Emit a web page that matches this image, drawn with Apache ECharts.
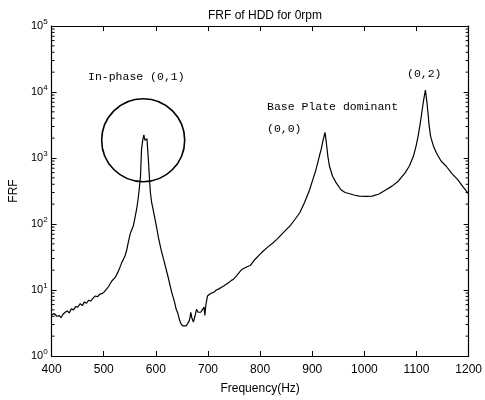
<!DOCTYPE html>
<html><head><meta charset="utf-8">
<script src="https://cdn.jsdelivr.net/npm/echarts@6/dist/echarts.min.js"></script>
<style>html,body{margin:0;padding:0;background:#fff}#c{width:485px;height:400px}</style>
</head><body><div id="c"></div>
<script>
var freq = [400,405,410,415,418,422,426,430,434,438,442,446,450,455,459,463,467,471,475,480,484,488,492,496,500,505,509,515.6,522,527,531,534.6,538,541,544,547,551,556.7,560,563,565.5,567.4,569,570.6,572.5,575,577,579,581,583,584.5,586.4,588,589.6,592,594.7,601,605,610,616,623,630,636,639,642,645,648,651.5,655,658,661,664,666,667,669,672,675,678,681,684,686,689,692.5,694,696,699,703,707,711,716,721,726,730,735,740,745,749,755,760,765,768,775,781,790,800,806,815,825,832,840,850,857,866,876,885,895,901,906,910.5,914,917,921,924.5,927,930,933,939,946,955,963,970,980,990,1003,1015,1028,1040,1053,1065,1078,1086,1094,1099,1103,1107,1110,1113,1117,1120,1122,1124,1127,1132,1138,1147,1157,1168,1179,1190,1200];
var frf = [4.2,4.4,4.0,4.1,3.8,4.3,4.6,4.8,4.5,5.2,5.0,5.6,5.5,6.2,5.8,6.6,6.3,7.0,6.8,7.6,8.1,7.9,8.6,8.8,9.2,10.2,11.2,13.7,15.5,18.5,22,26,29.5,33,40,52,72,93,125,166,225,297,400,530,1340,1900,2250,1850,1900,1950,1300,750,450,297,210,166,93,62,41,27,16.3,9.5,6.5,5.1,4.5,3.6,3.1,2.87,2.9,2.87,3.1,3.4,4.0,4.6,3.8,3.26,4.0,5.1,4.6,4.3,4.6,5.0,5.5,4.1,6.0,8.1,8.6,9.0,9.2,10.0,10.4,11.0,11.5,12.2,13.0,14.0,14.6,16.5,18.5,20.5,21.9,22.5,23.5,29,35,39,45,52,58.5,68,82,93,115,148,210,330,470,620,845,1100,1340,1900,2450,1700,1050,750,530,420,330,300,290,275,265,262,265,285,325,375,445,594,750,1060,1500,2130,3300,4800,7000,10700,7000,4800,3200,2130,1550,1200,900,750,580,470,360,285];
var titleText = 'FRF of HDD for 0rpm';
var xName = 'Frequency(Hz)';
var yName = 'FRF';
var notes = [
  {text:'In-phase (0,1)', x:88, y:78},
  {text:'Base Plate dominant', x:267, y:108},
  {text:'(0,0)', x:267, y:130},
  {text:'(0,2)', x:407, y:75}
];
var circleCenter = [575.7, 1860];

var data = freq.map(function(f,i){return [f, frf[i]];});
var chart = echarts.init(document.getElementById('c'));
var fontS = 'Liberation Sans';
var ylab = {
  formatter:function(v){var e=Math.round(Math.log10(v));return '{b|10}{s|'+e+'}';},
  rich:{b:{fontSize:11,fontFamily:fontS,color:'#000'},s:{fontSize:8,fontFamily:fontS,color:'#000',padding:[0,0,8,0]}},
  margin:4
};
var lineSt = {lineStyle:{color:'#000',width:1.2}};
chart.setOption({
  animation:false,
  backgroundColor:'#fff',
  title:{text:titleText,left:260,top:5,textAlign:'center',textStyle:{fontSize:12,fontWeight:'normal',fontFamily:fontS,color:'#000'}},
  grid:{left:49,right:14,top:26,bottom:43},
  xAxis:[
    {type:'value',min:400,max:1200,interval:100,position:'bottom',
     axisLine:lineSt,axisTick:{inside:true,length:5,lineStyle:{color:'#000'}},
     axisLabel:{color:'#000',fontSize:12,fontFamily:fontS,margin:8,formatter:function(v){return String(v);}},
     splitLine:{show:false},
     name:xName,nameLocation:'middle',nameGap:27,nameTextStyle:{color:'#000',fontSize:12,fontFamily:fontS}},
    {type:'value',min:400,max:1200,interval:100,position:'top',
     axisLine:lineSt,axisTick:{inside:true,length:5,lineStyle:{color:'#000'}},
     axisLabel:{show:false},splitLine:{show:false}}
  ],
  yAxis:[
    {type:'log',logBase:10,min:1,max:100000,position:'left',
     axisLine:{show:true,lineStyle:{color:'#000',width:1.2}},
     axisTick:{inside:true,length:5,lineStyle:{color:'#000'}},
     axisLabel:Object.assign({color:'#000'},ylab),
     splitLine:{show:false},
     name:yName,nameLocation:'middle',nameGap:27,nameTextStyle:{color:'#000',fontSize:12,fontFamily:fontS}},
    {type:'log',logBase:10,min:1,max:100000,position:'right',
     axisLine:{show:true,lineStyle:{color:'#000',width:1.2}},
     axisTick:{inside:true,length:5,lineStyle:{color:'#000'}},
     axisLabel:{show:false},splitLine:{show:false}}
  ],
  series:[{type:'line',data:data,showSymbol:false,xAxisIndex:0,yAxisIndex:0,
    lineStyle:{color:'#000',width:1.2},itemStyle:{color:'#000'}}]
});
var cp = chart.convertToPixel({xAxisIndex:0,yAxisIndex:0}, circleCenter);
var g = notes.map(function(n){
  return {type:'text',left:n.x,top:n.y-7,style:{text:n.text,fontSize:11.5,fontFamily:'Liberation Mono',fill:'#000'}};
});
g.push({type:'circle',shape:{cx:cp[0],cy:cp[1],r:41.5},style:{fill:'none',stroke:'#000',lineWidth:1.6}});
// log minor ticks (2..9 per decade) on left and right axes
var xl = chart.convertToPixel({xAxisIndex:0}, 400), xr = chart.convertToPixel({xAxisIndex:0}, 1200);
for (var d=0; d<5; d++) {
  for (var m=2; m<=9; m++) {
    var py = chart.convertToPixel({yAxisIndex:0}, m*Math.pow(10,d));
    g.push({type:'line',shape:{x1:xl,y1:py,x2:xl+3,y2:py},style:{stroke:'#000',lineWidth:1}});
    g.push({type:'line',shape:{x1:xr,y1:py,x2:xr-3,y2:py},style:{stroke:'#000',lineWidth:1}});
  }
}
chart.setOption({graphic:g});
</script></body></html>
